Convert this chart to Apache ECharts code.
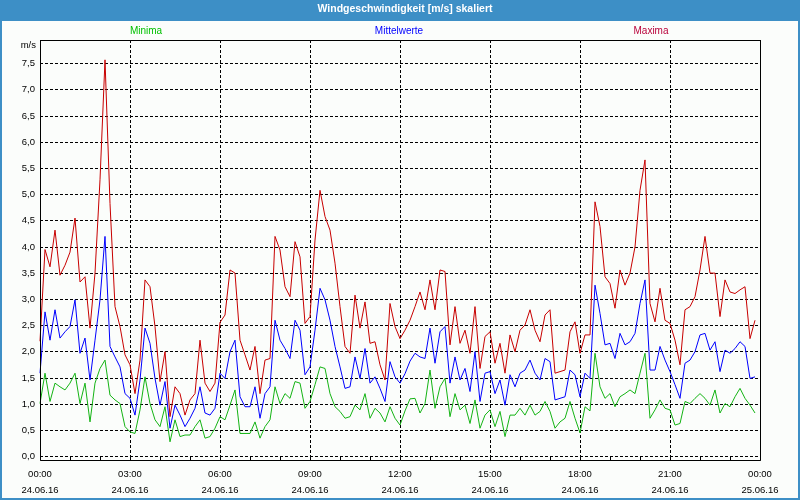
<!DOCTYPE html>
<html><head><meta charset="utf-8">
<script src="https://cdn.jsdelivr.net/npm/echarts@6/dist/echarts.min.js"></script>
<style>html,body{margin:0;padding:0;background:#fbfdfb}#c{width:800px;height:500px}</style>
</head><body><div id="c"></div>
<script>
// ---- data ----
const seriesNames = ['Minima', 'Mittelwerte', 'Maxima'];
const sampleStepMinutes = 10;
const minima = [
  1.01,1.59,1.05,1.4,1.33,1.27,1.4,1.59,1.01,1.4, 0.66,1.4,1.68,1.84,1.17,1.08,1.01,0.57,0.47,0.44,
  0.89,1.52,1.01,0.7,0.57,0.95,0.28,0.7,0.38,0.41, 0.41,0.57,0.7,0.35,0.38,0.54,0.76,0.7,0.98,
  1.27,0.44,0.44,0.44,0.66,0.35,0.57,0.7,1.33,1.01, 1.2,1.11,1.43,1.4,0.92,1.05,1.37,1.71,1.68,1.2,
  0.95,0.86,0.73,0.76,0.98,0.89,1.2,0.73,0.92,0.83, 0.66,0.95,0.73,0.6,0.87,1.1,
  1.11,0.83,1.01,1.65,0.92,1.33,1.49,0.76,1.2,0.89, 0.98,0.63,1.08,0.54,0.79,0.89,0.57,0.86,0.38,0.79,
  0.79,0.92,0.79,0.98,0.79,0.86,1.05,0.86,0.54,0.66, 0.73,1.05,0.73,
  0.45,0.95,0.87,1.97,1.33,1.11,1.2,0.95,1.14,1.2, 1.27,1.2,1.59,1.97,0.73,0.89,1.08,0.92,0.89,0.6,
  0.63,1.05,1.01,1.11,1.2,1.11,0.98,1.27,0.83,1.01, 0.95,1.14,1.3,1.11,0.98,0.83
];
const mittelwerte = [
  1.59,2.76,2.22,2.8,2.26,2.38,2.48,2.99,1.97,2.26, 1.46,2.22,2.99,4.2,2.1,1.9,1.71,1.2,1.11,0.79,
  1.46,2.45,2.16,1.49,0.98,1.43,0.54,0.98,0.79,0.57, 0.73,0.92,1.33,0.83,0.79,0.92,1.59,1.49,2.0,
  2.22,1.14,0.95,0.95,1.33,0.73,1.2,1.33,2.6,2.22, 2.06,1.87,2.6,2.41,1.56,1.71,2.41,3.21,2.99,2.6,
  2.1,1.71,1.3,1.33,1.9,1.49,2.06,1.4,1.52,1.3, 1.05,1.81,1.52,1.4,1.58,1.82,
  1.97,1.9,1.87,2.45,1.78,2.38,2.48,1.4,1.9,1.46, 1.68,1.24,2.0,1.05,1.59,1.62,1.2,1.46,0.98,1.56,
  1.33,1.59,1.65,1.84,1.59,1.46,1.87,1.81,1.08,1.11, 1.14,1.65,1.56,
  1.14,1.59,1.49,3.27,2.73,2.13,2.16,1.87,2.35,2.13, 2.19,2.35,2.92,3.37,1.65,1.65,2.1,1.84,1.62,1.37,
  1.11,1.78,1.84,2.0,2.32,2.35,2.03,2.19,1.62,2.03, 1.97,2.06,2.19,2.1,1.49,1.52
];
const maxima = [
  2.2,3.95,3.62,4.32,3.46,3.65,3.9,4.55,3.33,3.43, 2.45,3.5,5.28,7.57,4.83,2.86,2.48,1.94,1.75,1.2,
  1.84,3.37,3.24,2.48,1.43,2.0,0.76,1.33,1.2,0.79, 1.08,1.2,2.22,1.4,1.24,1.4,2.56,2.7,3.56,
  3.5,2.22,1.94,1.65,2.1,1.2,1.84,1.87,4.2,3.94, 3.24,3.05,4.1,3.81,2.54,2.67,4.13,5.08,4.58,4.32,
  3.69,2.86,2.1,1.97,3.08,2.45,2.95,2.16,2.19,1.75, 1.46,2.92,2.48,2.25,2.41,2.6,
  2.86,3.14,2.8,3.37,2.8,3.56,3.53,2.13,2.86,2.16, 2.41,1.97,2.86,1.68,2.29,2.38,1.78,2.16,1.59,2.32,
  2.0,2.41,2.51,2.8,2.41,2.19,2.7,2.8,1.59,1.62, 1.65,2.38,2.57,
  1.97,2.32,2.32,4.86,4.39,3.43,3.3,2.83,3.56,3.27, 3.5,4.0,5.08,5.66,2.92,2.57,3.21,2.6,2.54,2.22,
  1.75,2.8,2.86,3.05,3.56,4.2,3.5,3.5,2.67,3.37, 3.14,3.11,3.18,3.24,2.25,2.6
];
const xTickTimes = ['00:00','03:00','06:00','09:00','12:00','15:00','18:00','21:00','00:00'];
const xTickDates = ['24.06.16','24.06.16','24.06.16','24.06.16','24.06.16','24.06.16','24.06.16','24.06.16','25.06.16'];
const yTickValues = [0,0.5,1,1.5,2,2.5,3,3.5,4,4.5,5,5.5,6,6.5,7,7.5];

// ---- chart ----
const FONT = 'Liberation Sans';
const colors = ['#14b414', '#0000ff', '#c80000'];
const legendColors = ['#00c000', '#0000ff', '#b8003a'];
const times = minima.map((_, i) => i * sampleStepMinutes);
const pairs = arr => arr.map((v, i) => [times[i], v]);
const values = [minima, mittelwerte, maxima];

const yMin = -3.5 / 52.4, yMax = 416.5 / 52.4;
const chart = echarts.init(document.getElementById('c'), null, {renderer: 'canvas'});
chart.setOption({
  animation: false,
  backgroundColor: '#fbfdfb',
  grid: {left: 40, right: 40, top: 40, bottom: 40, containLabel: false},
  xAxis: {
    type: 'value', min: 0, max: 1440, interval: 180,
    axisLine: {show: false},
    axisTick: {show: true, length: 4, lineStyle: {color: '#000'}},
    minorTick: {show: true, splitNumber: 3, length: 4, lineStyle: {color: '#000'}},
    splitLine: {show: true, lineStyle: {color: '#000', type: [3, 2], width: 1}},
    axisLabel: {
      margin: 6, fontSize: 9.5, fontFamily: FONT, color: '#000', lineHeight: 16,
      formatter: v => { const k = Math.round(v / 180); return xTickTimes[k] + '\n' + xTickDates[k]; }
    }
  },
  yAxis: {
    type: 'value', min: yMin, max: yMax,
    name: 'm/s', nameLocation: 'end', nameGap: -5,
    nameTextStyle: {fontSize: 9.5, fontFamily: FONT, color: '#000', align: 'right', verticalAlign: 'middle', padding: [0, 4, 0, 0]},
    axisLine: {show: false},
    axisTick: {show: false, customValues: yTickValues},
    axisLabel: {customValues: yTickValues, margin: 5, fontSize: 9.5, fontFamily: FONT, color: '#000',
      formatter: v => v.toFixed(1).replace('.', ',')},
    splitLine: {show: true, lineStyle: {color: '#000', type: [3, 2], width: 1}}
  },
  series: seriesNames.map((n, k) => ({
    name: n, type: 'line', data: pairs(values[k]), showSymbol: false, symbol: 'none',
    lineStyle: {color: colors[k], width: 1}, itemStyle: {color: colors[k]},
    emphasis: {disabled: true}, z: 3 + k
  })),
  graphic: [
    {type: 'rect', z: 100, silent: true, shape: {x: 0, y: 0, width: 800, height: 21}, style: {fill: '#3d8fc6'}},
    {type: 'rect', z: 100, silent: true, shape: {x: 1, y: 1, width: 798, height: 498}, style: {fill: null, stroke: '#3d8fc6', lineWidth: 2}},
    {type: 'rect', z: 100, silent: true, shape: {x: 40.5, y: 40.5, width: 720, height: 420}, style: {fill: null, stroke: '#000', lineWidth: 1}},
    {type: 'text', z: 101, silent: true, x: 405, y: 9,
      style: {text: 'Windgeschwindigkeit [m/s] skaliert', fill: '#fff', font: 'bold 10.5px "Liberation Sans"', align: 'center', verticalAlign: 'middle', textAlign: 'center', textVerticalAlign: 'middle'}},
    ...seriesNames.map((n, k) => ({type: 'text', z: 101, silent: true, x: [146, 399, 651][k], y: 31,
      style: {text: n, fill: legendColors[k], font: '10px "Liberation Sans"', align: 'center', verticalAlign: 'middle', textAlign: 'center', textVerticalAlign: 'middle'}}))
  ]
});
</script></body></html>
